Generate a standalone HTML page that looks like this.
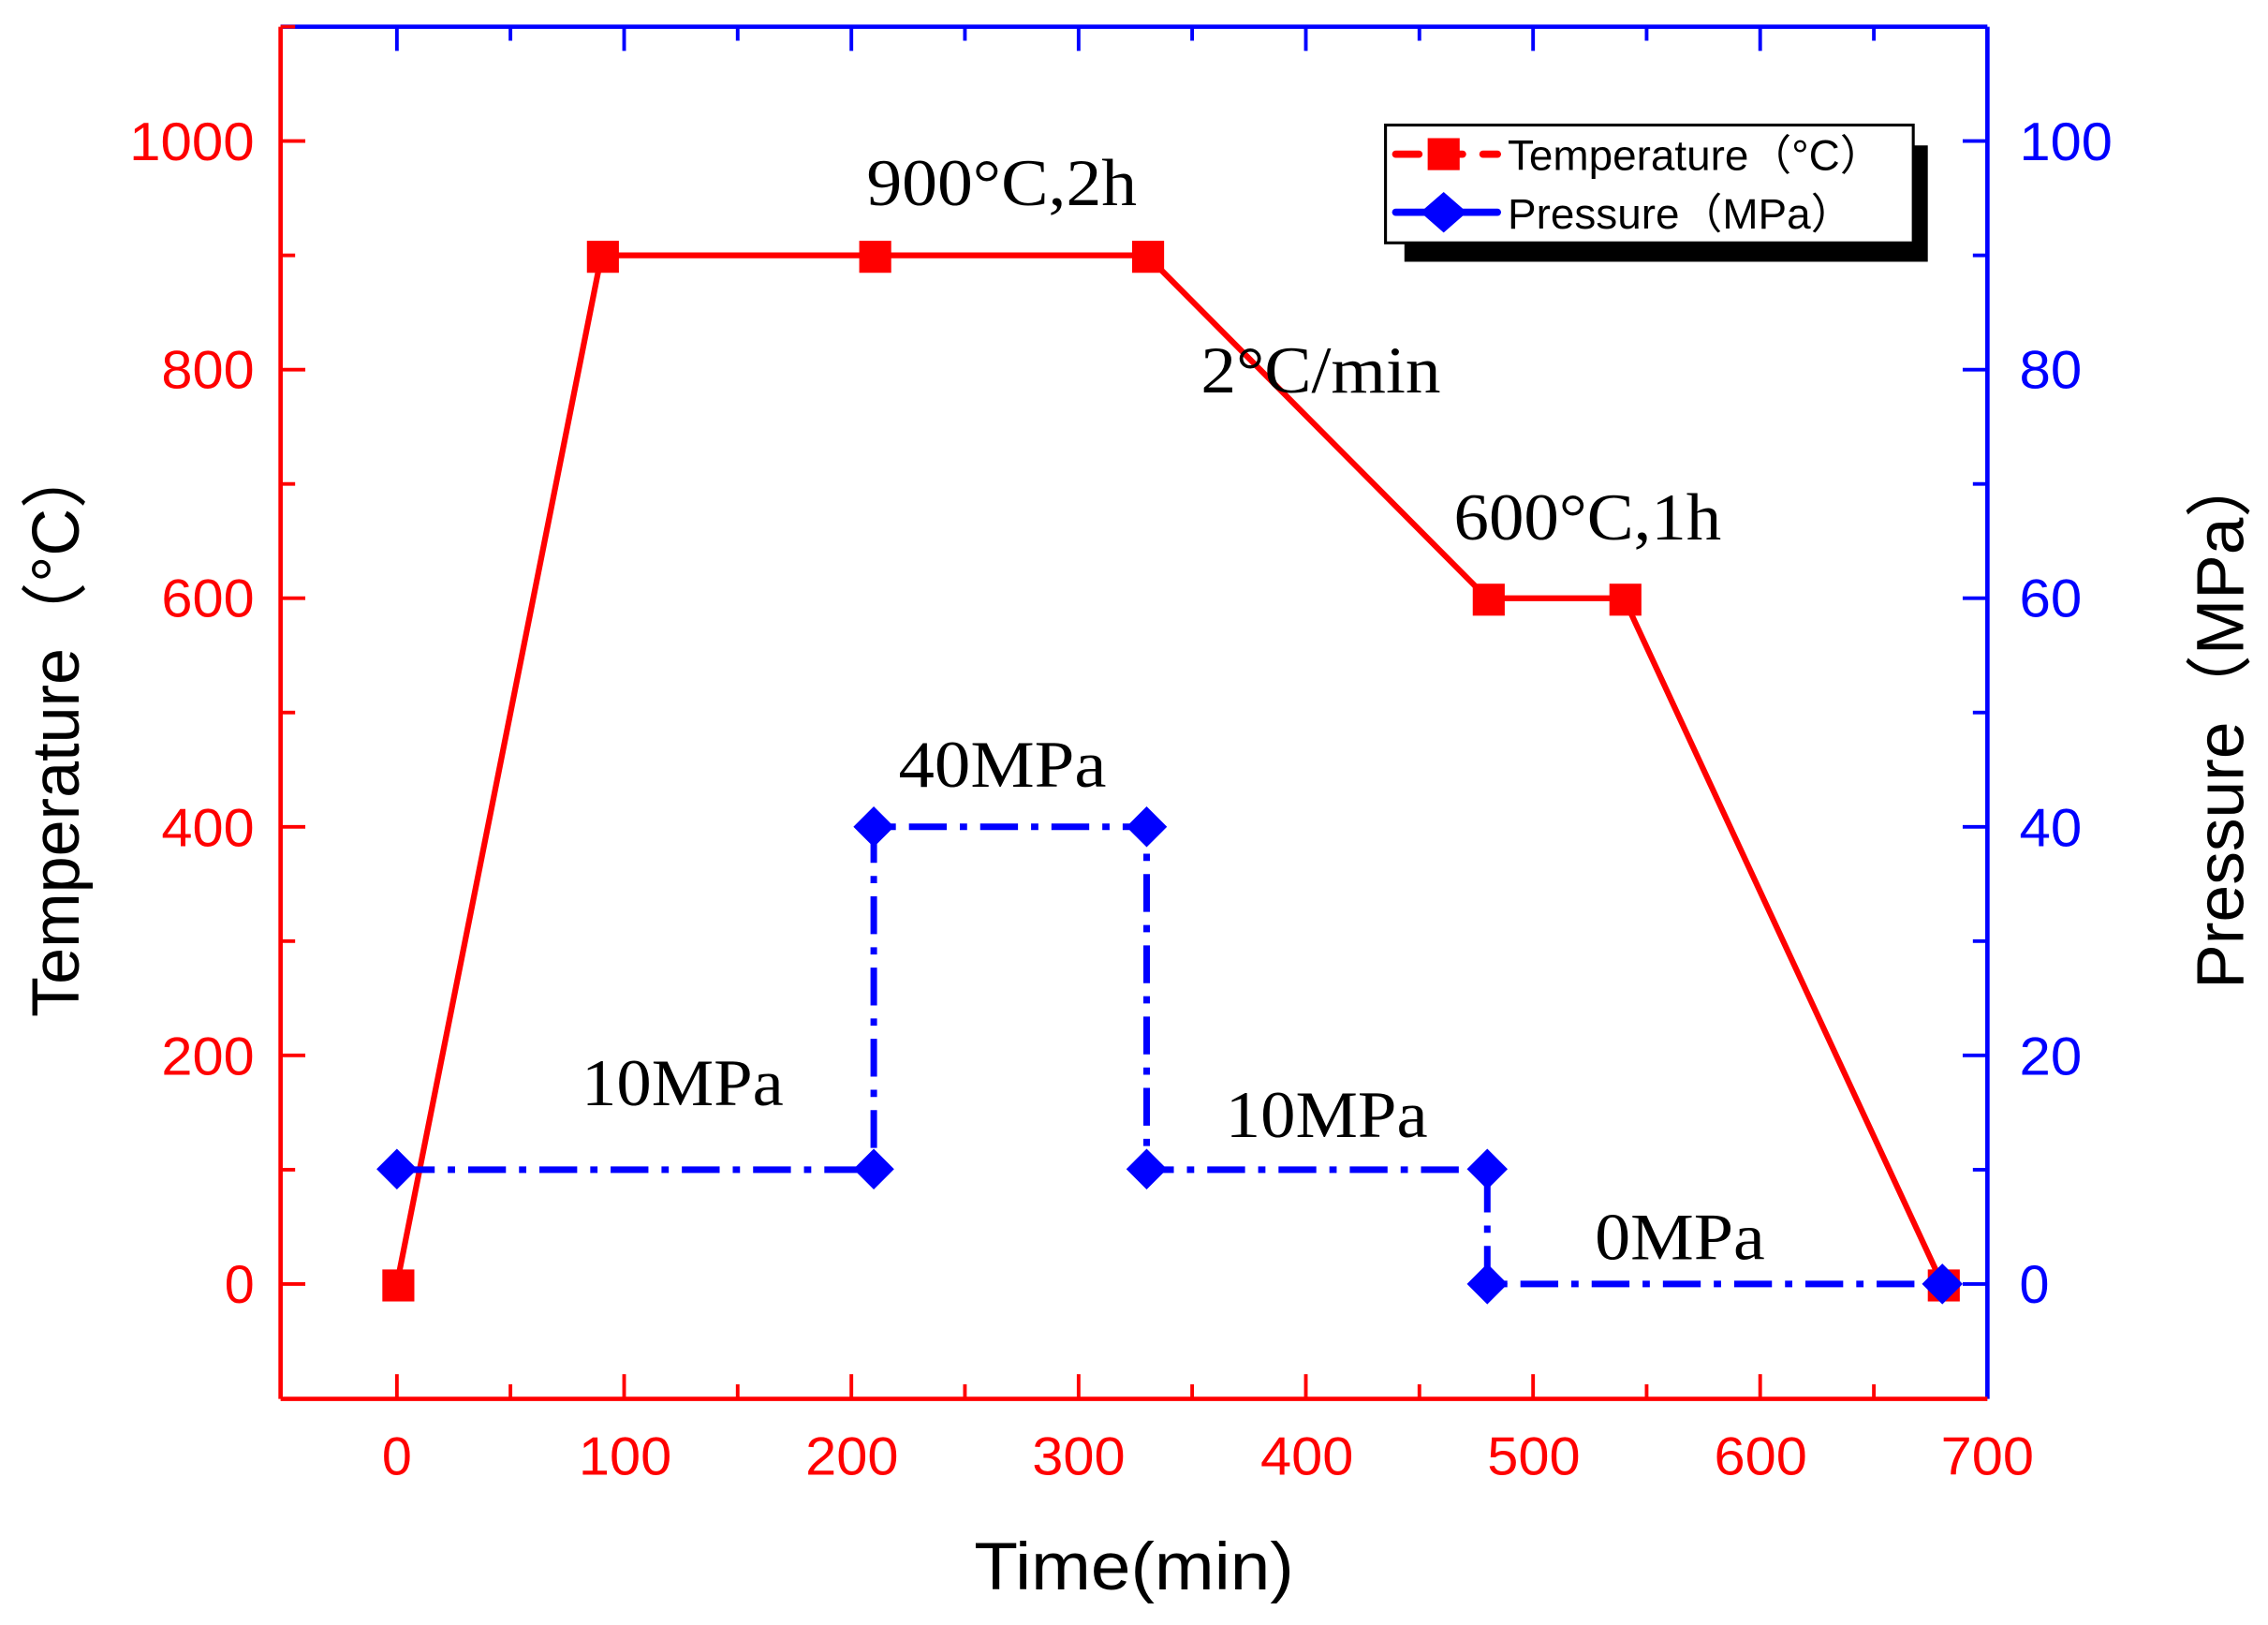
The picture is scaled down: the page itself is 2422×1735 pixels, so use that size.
<!DOCTYPE html>
<html><head><meta charset="utf-8"><style>html,body{margin:0;padding:0;background:#fff;}svg{display:block}</style></head>
<body>
<svg width="2422" height="1735" viewBox="0 0 1560 1117.5" xmlns="http://www.w3.org/2000/svg" font-family="Liberation Sans, sans-serif">
<rect width="1560" height="1117.5" fill="#fff"/>
<line x1="193" y1="18.4" x2="1367" y2="18.4" stroke="#0000ff" stroke-width="3"/>
<line x1="1367" y1="18.4" x2="1367" y2="962" stroke="#0000ff" stroke-width="3"/>
<line x1="193" y1="18.4" x2="193" y2="962" stroke="#ff0000" stroke-width="3"/>
<line x1="193" y1="962" x2="1367" y2="962" stroke="#ff0000" stroke-width="3"/>
<g stroke="#ff0000" stroke-width="2.5">
<line x1="193" y1="883" x2="210" y2="883"/><line x1="193" y1="725.8" x2="210" y2="725.8"/><line x1="193" y1="568.6" x2="210" y2="568.6"/><line x1="193" y1="411.4" x2="210" y2="411.4"/><line x1="193" y1="254.2" x2="210" y2="254.2"/><line x1="193" y1="97" x2="210" y2="97"/>
<line x1="193" y1="804.4" x2="203" y2="804.4"/><line x1="193" y1="647.2" x2="203" y2="647.2"/><line x1="193" y1="490" x2="203" y2="490"/><line x1="193" y1="332.8" x2="203" y2="332.8"/><line x1="193" y1="175.6" x2="203" y2="175.6"/><line x1="193" y1="18.4" x2="203" y2="18.4"/>
<line x1="273" y1="962" x2="273" y2="945"/><line x1="429.3" y1="962" x2="429.3" y2="945"/><line x1="585.6" y1="962" x2="585.6" y2="945"/><line x1="741.9" y1="962" x2="741.9" y2="945"/><line x1="898.2" y1="962" x2="898.2" y2="945"/><line x1="1054.5" y1="962" x2="1054.5" y2="945"/><line x1="1210.7" y1="962" x2="1210.7" y2="945"/>
<line x1="351.1" y1="962" x2="351.1" y2="952"/><line x1="507.4" y1="962" x2="507.4" y2="952"/><line x1="663.7" y1="962" x2="663.7" y2="952"/><line x1="820" y1="962" x2="820" y2="952"/><line x1="976.3" y1="962" x2="976.3" y2="952"/><line x1="1132.6" y1="962" x2="1132.6" y2="952"/><line x1="1288.9" y1="962" x2="1288.9" y2="952"/>
</g>
<g stroke="#0000ff" stroke-width="2.5">
<line x1="1367" y1="883" x2="1350" y2="883"/><line x1="1367" y1="725.8" x2="1350" y2="725.8"/><line x1="1367" y1="568.6" x2="1350" y2="568.6"/><line x1="1367" y1="411.4" x2="1350" y2="411.4"/><line x1="1367" y1="254.2" x2="1350" y2="254.2"/><line x1="1367" y1="97" x2="1350" y2="97"/>
<line x1="1367" y1="804.4" x2="1357" y2="804.4"/><line x1="1367" y1="647.2" x2="1357" y2="647.2"/><line x1="1367" y1="490" x2="1357" y2="490"/><line x1="1367" y1="332.8" x2="1357" y2="332.8"/><line x1="1367" y1="175.6" x2="1357" y2="175.6"/>
<line x1="273" y1="18.4" x2="273" y2="35"/><line x1="429.3" y1="18.4" x2="429.3" y2="35"/><line x1="585.6" y1="18.4" x2="585.6" y2="35"/><line x1="741.9" y1="18.4" x2="741.9" y2="35"/><line x1="898.2" y1="18.4" x2="898.2" y2="35"/><line x1="1054.5" y1="18.4" x2="1054.5" y2="35"/><line x1="1210.7" y1="18.4" x2="1210.7" y2="35"/>
<line x1="351.1" y1="18.4" x2="351.1" y2="28"/><line x1="507.4" y1="18.4" x2="507.4" y2="28"/><line x1="663.7" y1="18.4" x2="663.7" y2="28"/><line x1="820" y1="18.4" x2="820" y2="28"/><line x1="976.3" y1="18.4" x2="976.3" y2="28"/><line x1="1132.6" y1="18.4" x2="1132.6" y2="28"/><line x1="1288.9" y1="18.4" x2="1288.9" y2="28"/>
</g>
<g fill="#ff0000" font-size="37" text-anchor="end">
<text x="175" y="896">0</text><text x="175" y="739" textLength="64" lengthAdjust="spacingAndGlyphs">200</text><text x="175" y="582" textLength="64" lengthAdjust="spacingAndGlyphs">400</text><text x="175" y="424" textLength="64" lengthAdjust="spacingAndGlyphs">600</text><text x="175" y="267" textLength="64" lengthAdjust="spacingAndGlyphs">800</text><text x="175" y="110" textLength="86" lengthAdjust="spacingAndGlyphs">1000</text>
</g>
<g fill="#ff0000" font-size="37" text-anchor="middle">
<text x="273" y="1014">0</text><text x="430" y="1014" textLength="64" lengthAdjust="spacingAndGlyphs">100</text><text x="586" y="1014" textLength="64" lengthAdjust="spacingAndGlyphs">200</text><text x="742" y="1014" textLength="64" lengthAdjust="spacingAndGlyphs">300</text><text x="899" y="1014" textLength="64" lengthAdjust="spacingAndGlyphs">400</text><text x="1055" y="1014" textLength="64" lengthAdjust="spacingAndGlyphs">500</text><text x="1211" y="1014" textLength="64" lengthAdjust="spacingAndGlyphs">600</text><text x="1367" y="1014" textLength="64" lengthAdjust="spacingAndGlyphs">700</text>
</g>
<g fill="#0000ff" font-size="37">
<text x="1389" y="896">0</text><text x="1389" y="739" textLength="43" lengthAdjust="spacingAndGlyphs">20</text><text x="1389" y="582" textLength="43" lengthAdjust="spacingAndGlyphs">40</text><text x="1389" y="424" textLength="43" lengthAdjust="spacingAndGlyphs">60</text><text x="1389" y="267" textLength="43" lengthAdjust="spacingAndGlyphs">80</text><text x="1389" y="110" textLength="64" lengthAdjust="spacingAndGlyphs">100</text>
</g>
<text x="780" y="1093" font-size="46" text-anchor="middle" fill="#000" textLength="220" lengthAdjust="spacingAndGlyphs">Time(min)</text>
<text transform="translate(54,502) rotate(-90)" font-size="46" text-anchor="middle" fill="#000" font-family="Liberation Sans, Noto Sans CJK SC, sans-serif" textLength="395" lengthAdjust="spacingAndGlyphs">Temperature（°C）</text>
<text transform="translate(1543,495) rotate(-90)" font-size="46" text-anchor="middle" fill="#000" font-family="Liberation Sans, Noto Sans CJK SC, sans-serif" textLength="370" lengthAdjust="spacingAndGlyphs">Pressure（MPa）</text>
<polyline points="273,883 413.7,175.6 601,175.6 788.7,175.6 1023,411.4 1117,411.4 1336,883" fill="none" stroke="#ff0000" stroke-width="4"/>
<polyline points="273,804.4 601,804.4 601,568.6 788.7,568.6 788.7,804.4 1023,804.4 1023,883 1336,883" fill="none" stroke="#0000ff" stroke-width="4.5" stroke-dasharray="26,9,5,9"/>
<g fill="#ff0000">
<rect x="263" y="873" width="22" height="22"/><rect x="403.7" y="165.6" width="22" height="22"/><rect x="591" y="165.6" width="22" height="22"/><rect x="778.7" y="165.6" width="22" height="22"/><rect x="1013" y="401.4" width="22" height="22"/><rect x="1107" y="401.4" width="22" height="22"/><rect x="1326" y="873" width="22" height="22"/>
</g>
<g fill="#0000ff">
<path d="M273,790 l14,14 l-14,14 l-14,-14z"/><path d="M601,790 l14,14 l-14,14 l-14,-14z"/><path d="M601,554.6 l14,14 l-14,14 l-14,-14z"/><path d="M788.7,554.6 l14,14 l-14,14 l-14,-14z"/><path d="M788.7,790 l14,14 l-14,14 l-14,-14z"/><path d="M1023,790 l14,14 l-14,14 l-14,-14z"/><path d="M1023,869 l14,14 l-14,14 l-14,-14z"/><path d="M1336,869 l14,14 l-14,14 l-14,-14z"/>
</g>
<g font-family="Liberation Serif, serif" font-size="46" fill="#000">
<text x="596" y="141" textLength="186" lengthAdjust="spacingAndGlyphs">900°C,2h</text>
<text x="826" y="270" textLength="165" lengthAdjust="spacingAndGlyphs">2°C/min</text>
<text x="1000" y="371" textLength="184" lengthAdjust="spacingAndGlyphs">600°C,1h</text>
<text x="618" y="541" textLength="143" lengthAdjust="spacingAndGlyphs">40MPa</text>
<text x="400" y="760" textLength="139" lengthAdjust="spacingAndGlyphs">10MPa</text>
<text x="843" y="782" textLength="139" lengthAdjust="spacingAndGlyphs">10MPa</text>
<text x="1097" y="866" textLength="117" lengthAdjust="spacingAndGlyphs">0MPa</text>
</g>
<rect x="966" y="100" width="360" height="80" fill="#000"/>
<rect x="953" y="86" width="363" height="81" fill="#fff" stroke="#000" stroke-width="2"/>
<line x1="960" y1="106" x2="1030" y2="106" stroke="#ff0000" stroke-width="5" stroke-dasharray="16,14" stroke-linecap="round"/>
<rect x="982" y="95" width="22" height="22" fill="#ff0000"/>
<line x1="960" y1="146" x2="1030" y2="146" stroke="#0000ff" stroke-width="5" stroke-linecap="round"/>
<path d="M993,132 l16,14 l-16,14 l-16,-14z" fill="#0000ff"/>
<g font-size="29" fill="#000" font-family="Liberation Sans, Noto Sans CJK SC, sans-serif">
<text x="1037" y="117" textLength="258" lengthAdjust="spacingAndGlyphs">Temperature（°C）</text>
<text x="1037" y="157" textLength="238" lengthAdjust="spacingAndGlyphs">Pressure（MPa）</text>
</g>
</svg>
</body></html>
